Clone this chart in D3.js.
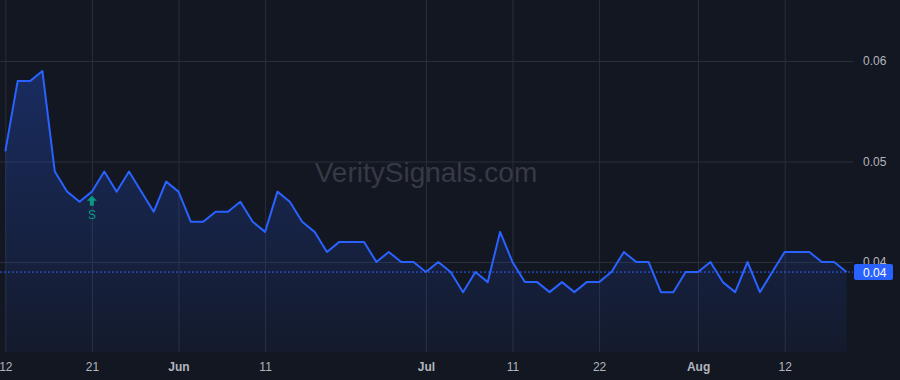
<!DOCTYPE html>
<html>
<head>
<meta charset="utf-8">
<script src="https://cdn.jsdelivr.net/npm/d3@7"></script>
<style>
  html, body { margin: 0; padding: 0; background: #131722; }
  svg { display: block; }
  text { font-family: "Liberation Sans", Arial, sans-serif; }
</style>
</head>
<body>
<svg id="chart" width="900" height="380"></svg>
<script>
// ---- data ----
const dates = [
  "2025-05-12","2025-05-13","2025-05-14","2025-05-15","2025-05-16","2025-05-19","2025-05-20","2025-05-21","2025-05-22","2025-05-23",
  "2025-05-27","2025-05-28","2025-05-29","2025-05-30",
  "2025-06-02","2025-06-03","2025-06-04","2025-06-05","2025-06-06","2025-06-09","2025-06-10","2025-06-11","2025-06-12","2025-06-13",
  "2025-06-16","2025-06-17","2025-06-18","2025-06-20","2025-06-23","2025-06-24","2025-06-25","2025-06-26","2025-06-27","2025-06-30",
  "2025-07-01","2025-07-02","2025-07-03","2025-07-07","2025-07-08","2025-07-09","2025-07-10","2025-07-11","2025-07-14","2025-07-15",
  "2025-07-16","2025-07-17","2025-07-18","2025-07-21","2025-07-22","2025-07-23","2025-07-24","2025-07-25","2025-07-28","2025-07-29",
  "2025-07-30","2025-07-31",
  "2025-08-01","2025-08-04","2025-08-05","2025-08-06","2025-08-07","2025-08-08","2025-08-11","2025-08-12","2025-08-13","2025-08-14",
  "2025-08-15","2025-08-18","2025-08-19"
];
const prices = [
  0.051,0.058,0.058,0.059,0.049,0.047,0.046,0.047,0.049,0.047,
  0.049,0.047,0.045,0.048,
  0.047,0.044,0.044,0.045,0.045,0.046,0.044,0.043,0.047,0.046,
  0.044,0.043,0.041,0.042,0.042,0.042,0.040,0.041,0.040,0.040,
  0.039,0.040,0.039,0.037,0.039,0.038,0.043,0.040,0.038,0.038,
  0.037,0.038,0.037,0.038,0.038,0.039,0.041,0.040,0.040,0.037,
  0.037,0.039,
  0.039,0.040,0.038,0.037,0.040,0.037,0.039,0.041,0.041,0.041,
  0.040,0.040,0.039
];
const xTickDates  = ["2025-05-12","2025-05-21","2025-06-02","2025-06-11","2025-07-01","2025-07-11","2025-07-22","2025-08-01","2025-08-12"];
const xTickLabels = ["12","21","Jun","11","Jul","11","22","Aug","12"];
const xTickBold   = [false,false,true,false,true,false,false,true,false];
const yTicks = [0.04, 0.05, 0.06];
const signalDates = ["2025-05-21"];
const signalLabels = ["S"];
const lastPrice = 0.039;
const lastPriceLabel = "0.04";
const watermark = "VeritySignals.com";

// ---- layout ----
const W = 900, H = 380;
const plotRight = 853, plotBottom = 352;
const svg = d3.select("#chart");

const idx = d => dates.indexOf(d);
const x = d3.scaleLinear().domain([0, dates.length - 1]).range([5.3, 846.5]);
const y = d3.scaleLinear().domain([0.04, 0.06]).range([262, 61]);

// background
svg.append("rect").attr("width", W).attr("height", H).attr("fill", "#131722");

// horizontal grid
svg.append("g")
  .call(d3.axisRight(y).tickValues(yTicks).tickSize(plotRight).tickFormat(""))
  .call(g => g.select(".domain").remove())
  .call(g => g.selectAll("line").attr("stroke", "#2a2e39").attr("stroke-width", 1));

// vertical grid
svg.append("g")
  .call(d3.axisBottom(x).tickValues(xTickDates.map(idx)).tickSize(plotBottom).tickFormat(""))
  .call(g => g.select(".domain").remove())
  .call(g => g.selectAll("line").attr("stroke", "#2a2e39").attr("stroke-width", 1));

// watermark
svg.append("text")
  .attr("x", 426).attr("y", 182)
  .attr("text-anchor", "middle")
  .attr("font-size", 28)
  .attr("fill", "#363a45")
  .text(watermark);

// gradient
const defs = svg.append("defs");
const grad = defs.append("linearGradient").attr("id", "areaGrad")
  .attr("gradientUnits", "userSpaceOnUse")
  .attr("x1", 0).attr("x2", 0).attr("y1", y(0.059)).attr("y2", plotBottom);
grad.append("stop").attr("offset", "0%").attr("stop-color", "#2962ff").attr("stop-opacity", 0.28);
grad.append("stop").attr("offset", "100%").attr("stop-color", "#2962ff").attr("stop-opacity", 0.05);

const pts = prices.map((p, i) => [i, p]);

svg.append("path")
  .datum(pts)
  .attr("fill", "url(#areaGrad)")
  .attr("d", d3.area().x(d => x(d[0])).y0(plotBottom).y1(d => y(d[1])));

// price line (dotted)
svg.append("line")
  .attr("x1", 0).attr("x2", plotRight)
  .attr("y1", y(lastPrice)).attr("y2", y(lastPrice))
  .attr("stroke", "#2962ff").attr("stroke-width", 1)
  .attr("stroke-dasharray", "2,2");

// line
svg.append("path")
  .datum(pts)
  .attr("fill", "none")
  .attr("stroke", "#2962ff")
  .attr("stroke-width", 2)
  .attr("stroke-linejoin", "round")
  .attr("d", d3.line().x(d => x(d[0])).y(d => y(d[1])));

// signal markers
signalDates.forEach((d, k) => {
  const i = idx(d);
  const cx = x(i), py = y(prices[i]);
  const top = py + 4;
  const g = svg.append("g").attr("fill", "#089981");
  g.append("path").attr("d",
    `M${cx},${top} L${cx + 5},${top + 5} L${cx + 2},${top + 5} L${cx + 2},${top + 10} L${cx - 2},${top + 10} L${cx - 2},${top + 5} L${cx - 5},${top + 5} Z`);
  g.append("text").attr("x", cx).attr("y", top + 23)
    .attr("text-anchor", "middle").attr("font-size", 12).text(signalLabels[k]);
});

// right axis labels
svg.append("g")
  .attr("transform", `translate(${plotRight},0)`)
  .call(d3.axisRight(y).tickValues(yTicks).tickSize(0).tickPadding(10).tickFormat(d3.format(".2f")))
  .call(g => g.select(".domain").remove())
  .call(g => g.selectAll("text").attr("fill", "#b2b5be").attr("font-size", 12)
    .attr("font-family", "'Liberation Sans', Arial, sans-serif"));

// last price label
const ly = y(lastPrice);
svg.append("rect")
  .attr("x", 854).attr("y", ly - 8).attr("width", 39).attr("height", 16)
  .attr("rx", 2).attr("fill", "#2962ff");
svg.append("text")
  .attr("x", 863).attr("y", ly + 4.5)
  .attr("font-size", 12).attr("fill", "#ffffff")
  .text(lastPriceLabel);

// bottom axis labels
svg.append("g")
  .attr("transform", `translate(0,${plotBottom})`)
  .call(d3.axisBottom(x).tickValues(xTickDates.map(idx)).tickSize(0).tickPadding(10)
    .tickFormat((d, i) => xTickLabels[i]))
  .call(g => g.select(".domain").remove())
  .call(g => g.selectAll("text")
    .attr("fill", "#b2b5be").attr("font-size", 12)
    .attr("font-family", "'Liberation Sans', Arial, sans-serif")
    .attr("font-weight", (d, i) => xTickBold[i] ? "bold" : "normal"));
</script>
</body>
</html>
